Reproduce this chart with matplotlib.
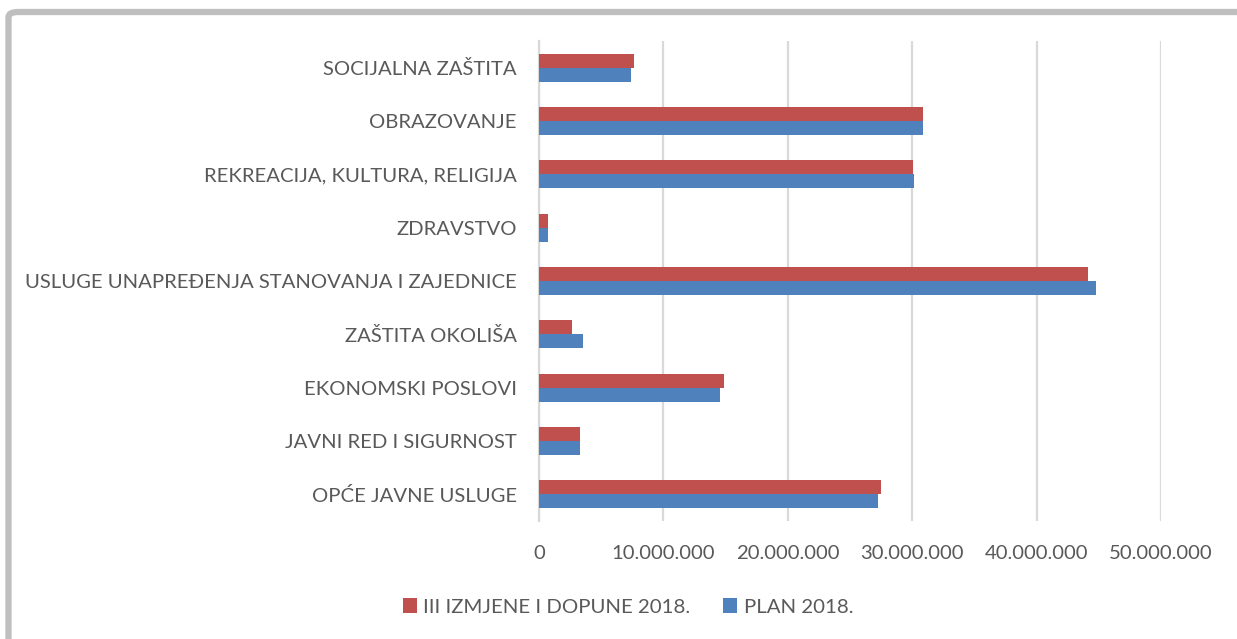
import matplotlib.pyplot as plt
from matplotlib.patches import FancyBboxPatch
from matplotlib.ticker import FuncFormatter
import numpy as np

categories = ["OPĆE JAVNE USLUGE", "JAVNI RED I SIGURNOST", "EKONOMSKI POSLOVI",
              "ZAŠTITA OKOLIŠA", "USLUGE UNAPREĐENJA STANOVANJA I ZAJEDNICE",
              "ZDRAVSTVO", "REKREACIJA, KULTURA, RELIGIJA", "OBRAZOVANJE",
              "SOCIJALNA ZAŠTITA"]
plan_2018 = [27.23e6, 3.31e6, 14.54e6, 3.54e6, 44.77e6, 0.74e6, 30.12e6, 30.9e6, 7.37e6]
izmjene_2018 = [27.5e6, 3.31e6, 14.84e6, 2.65e6, 44.1e6, 0.74e6, 30.04e6, 30.85e6, 7.63e6]
xticks = [0, 10e6, 20e6, 30e6, 40e6, 50e6]

RED = "#C0504D"
BLUE = "#4F81BD"
TXT = "#595959"
GRID = "#D9D9D9"

plt.rcParams['font.family'] = ['Lato', 'DejaVu Sans']

fig = plt.figure(figsize=(12.37, 6.39), dpi=100)

# outer chart border (only top/left visible in the reference)
border = FancyBboxPatch((8.5 / 1237, -0.1), 1.2, (639 - 12) / 639 + 0.1,
                        boxstyle="round,pad=0,rounding_size=0.008",
                        transform=fig.transFigure, fill=False,
                        edgecolor="#BFBFBF", linewidth=4.5, zorder=0)
fig.patches.append(border)

ax = fig.add_axes([539 / 1237, (639 - 521) / 639, (1161 - 539) / 1237, (521 - 41) / 639])

y = np.arange(len(categories))
h = 0.265
ax.barh(y - h / 2, plan_2018, height=h, color=BLUE, label="PLAN 2018.", zorder=3)
ax.barh(y + h / 2, izmjene_2018, height=h, color=RED, label="III IZMJENE I DOPUNE 2018.", zorder=3)

ax.set_xlim(0, 50e6)
ax.set_ylim(-0.5, len(categories) - 0.5)
ax.set_xticks(xticks)
ax.xaxis.set_major_formatter(FuncFormatter(lambda v, p: "0" if v == 0 else f"{int(v):,}".replace(",", ".")))
ax.set_yticks(y)
ax.set_yticklabels(categories)
ax.tick_params(axis='both', length=0, labelsize=14.6, colors=TXT)
ax.tick_params(axis='y', pad=16)
ax.tick_params(axis='x', pad=17)
ax.grid(axis='x', color=GRID, linewidth=1.6, zorder=0)
for s in ['top', 'right', 'bottom']:
    ax.spines[s].set_visible(False)
ax.spines['left'].set_color(GRID)
ax.spines['left'].set_linewidth(1.6)

handles, labels = ax.get_legend_handles_labels()
fig.legend(handles[::-1], labels[::-1], loc='center', bbox_to_anchor=(628 / 1237, 1 - 607 / 639),
           ncol=2, frameon=False, fontsize=14.7, labelcolor=TXT, handlelength=0.7,
           handleheight=0.7, handletextpad=0.3, columnspacing=1.6)

fig.savefig("out.png", dpi=100, facecolor="white")
